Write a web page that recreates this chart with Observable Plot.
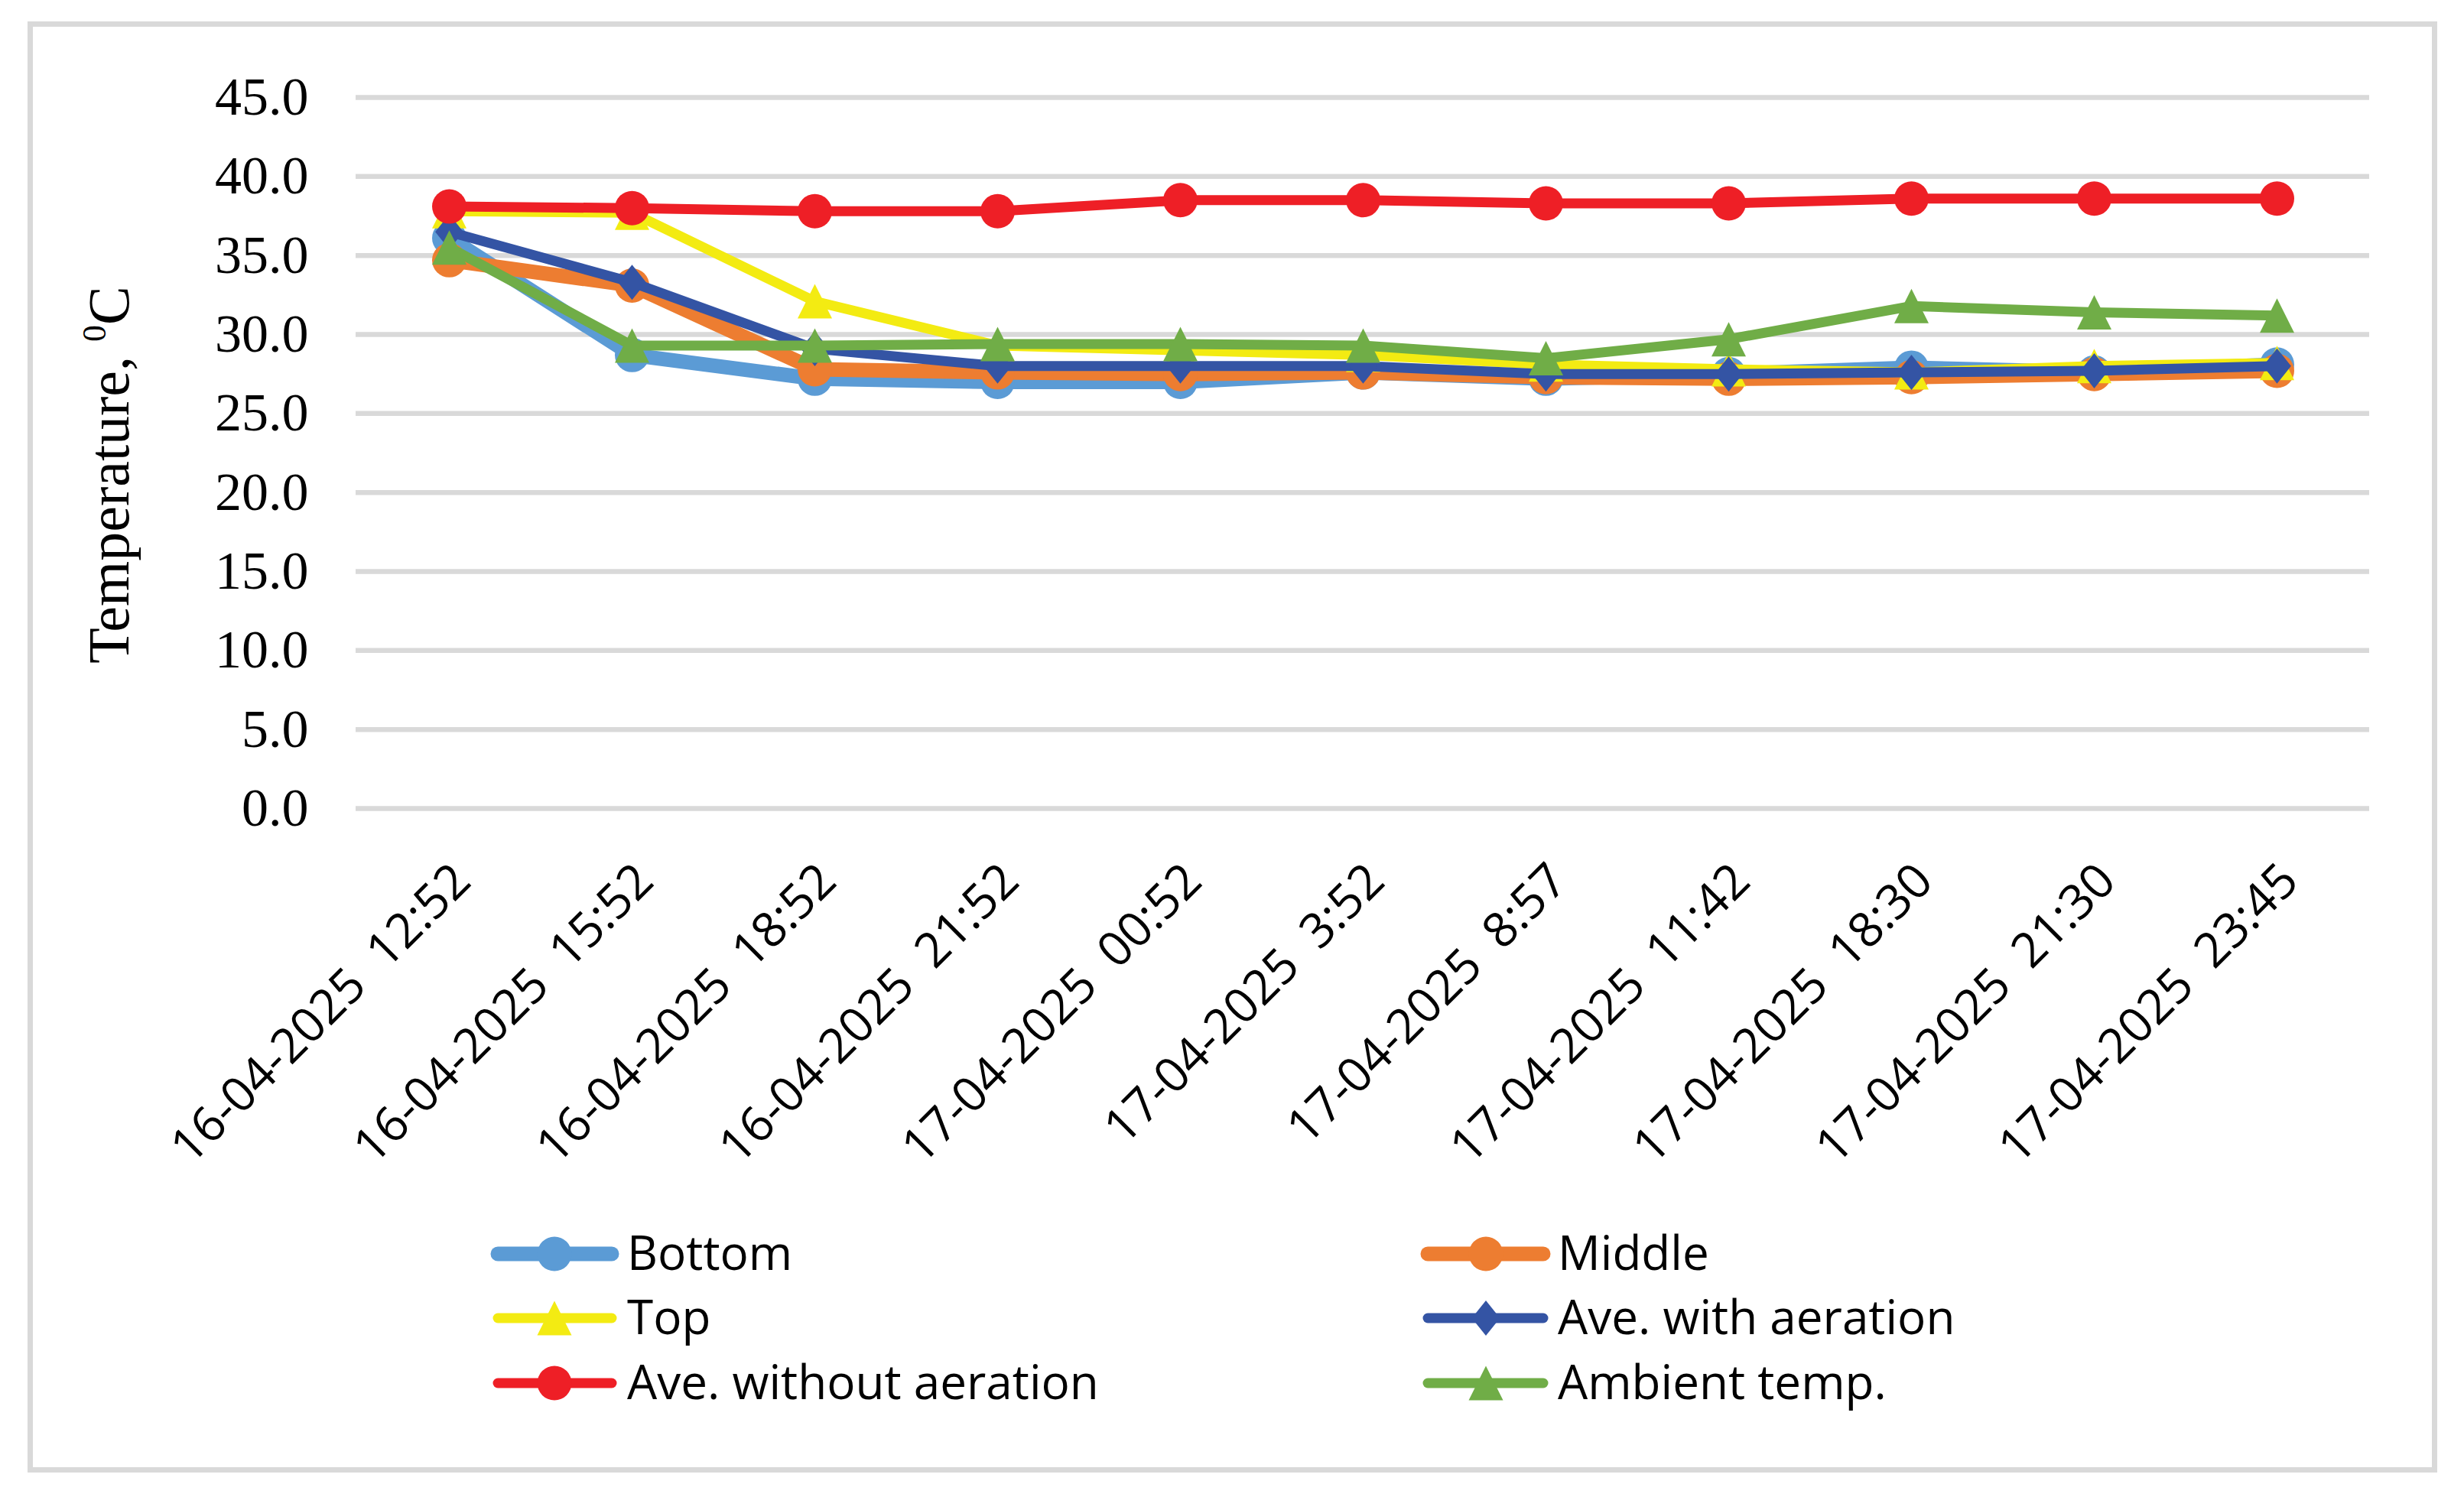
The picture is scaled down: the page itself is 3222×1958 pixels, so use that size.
<!DOCTYPE html>
<html>
<head>
<meta charset="utf-8">
<script src="https://cdn.jsdelivr.net/npm/d3@7"></script>
<script src="https://cdn.jsdelivr.net/npm/@observablehq/plot@0.6"></script>
<style>
  html, body { margin: 0; padding: 0; background: #ffffff; }
  #wrap { position: relative; width: 3222px; height: 1958px; }
  #plot { position: absolute; left: 0; top: 0; }
  #legend { position: absolute; left: 0; top: 1580px; }
  #frame { position: absolute; left: 36px; top: 28px; width: 3151px; height: 1898px;
           border: 7px solid #d9d9d9; box-sizing: border-box; pointer-events: none; }
</style>
</head>
<body>
<div id="wrap">
  <div id="plot"></div>
  <svg id="legend" width="3222" height="320"></svg>
  <div id="frame"></div>
</div>
<script>
// ---- data ----
const times = [
  "16-04-2025 12:52", "16-04-2025 15:52", "16-04-2025 18:52", "16-04-2025 21:52",
  "17-04-2025 00:52", "17-04-2025 3:52", "17-04-2025 8:57", "17-04-2025 11:42",
  "17-04-2025 18:30", "17-04-2025 21:30", "17-04-2025 23:45"
];
const bottom     = [36.1, 28.7, 27.2, 27.0, 27.0, 27.6, 27.2, 27.5, 27.9, 27.6, 28.1];
const middle     = [34.7, 33.1, 27.8, 27.6, 27.5, 27.6, 27.3, 27.2, 27.3, 27.5, 27.7];
const topLayer   = [37.8, 37.7, 32.1, 29.3, 29.0, 28.7, 28.1, 27.8, 27.6, 28.0, 28.2];
const aveWith    = [36.5, 33.3, 29.1, 28.0, 28.0, 28.0, 27.5, 27.5, 27.6, 27.7, 28.0];
const aveWithout = [38.1, 38.0, 37.8, 37.8, 38.5, 38.5, 38.3, 38.3, 38.6, 38.6, 38.6];
const ambient    = [35.5, 29.3, 29.3, 29.4, 29.4, 29.3, 28.5, 29.7, 31.8, 31.4, 31.2];
const yTicks = [0, 5, 10, 15, 20, 25, 30, 35, 40, 45];
const seriesNames = ["Bottom", "Middle", "Top", "Ave. with aeration", "Ave. without aeration", "Ambient temp."];
const seriesValues = [bottom, middle, topLayer, aveWith, aveWithout, ambient];
const seriesColors = ["#5b9bd5", "#ed7d31", "#f3eb12", "#3454a4", "#ee1f26", "#70ad47"];
const seriesSymbols = ["circle", "circle", "triangle", "diamond", "circle", "triangle"];
const seriesWidths = [19, 19, 13, 13, 13, 13];
const yTitle = "Temperature, ";

// ---- custom marker shapes ----
const shapes = {
  circle: { draw(ctx, size) { const r = Math.sqrt(size / Math.PI); ctx.moveTo(r, 0); ctx.arc(0, 0, r, 0, 2 * Math.PI); } },
  triangle: { draw(ctx, size) { const r = Math.sqrt(size / Math.PI); ctx.moveTo(0, -r); ctx.lineTo(r, r); ctx.lineTo(-r, r); ctx.closePath(); } },
  diamond: { draw(ctx, size) { const r = Math.sqrt(size / Math.PI); const w = r * 0.8; ctx.moveTo(0, -r); ctx.lineTo(w, 0); ctx.lineTo(0, r); ctx.lineTo(-w, 0); ctx.closePath(); } }
};
const markerR = { circle: 22.5, triangle: 22.5, diamond: 23 };

// ---- table ----
const rows = seriesNames.map((name, s) => times.map((t, i) => ({ series: name, time: t, value: seriesValues[s][i] })));

const marks = [
  Plot.gridY(yTicks, { stroke: "#d9d9d9", strokeWidth: 6.5, strokeOpacity: 1 }),
  Plot.axisY({ ticks: yTicks, tickFormat: d => d.toFixed(1), tickSize: 0, tickPadding: 62,
               fontSize: 70, fontFamily: "Liberation Serif", label: null, fill: "#000" }),
  Plot.axisX({ tickRotate: -45, tickSize: 0, tickPadding: 84, dx: 17, fontSize: 63,
               fontFamily: "Open Sans", label: null, fill: "#000",
               tickFormat: d => d.replace(" ", "\u00a0 ") })
];
rows.forEach((data, s) => {
  marks.push(Plot.lineY(data, { x: "time", y: "value", stroke: seriesColors[s], strokeWidth: seriesWidths[s],
                                strokeLinecap: "round", strokeLinejoin: "round" }));
  marks.push(Plot.dot(data, { x: "time", y: "value", r: markerR[seriesSymbols[s]], symbol: shapes[seriesSymbols[s]],
                              fill: seriesColors[s], stroke: "none" }));
});

const chart = Plot.plot({
  width: 3222,
  height: 1580,
  marginLeft: 465,
  marginRight: 124,
  marginTop: 127,
  marginBottom: 523,
  style: { background: "transparent", maxWidth: "none", color: "#000", overflow: "visible" },
  x: { type: "point", domain: times, padding: 0.5 },
  y: { domain: [0, 45] },
  marks
});
document.getElementById("plot").appendChild(chart);

// y-axis title with superscript
const svg = d3.select(chart);
const t = svg.append("text")
  .attr("transform", "translate(168,621) rotate(-90)")
  .attr("text-anchor", "middle")
  .attr("font-family", "Liberation Serif")
  .attr("font-size", 76)
  .attr("fill", "#000");
t.append("tspan").text(yTitle);
t.append("tspan").attr("font-size", 44).attr("dy", -30).text("0");
t.append("tspan").attr("dy", 30).text("C");

// ---- legend ----
const leg = d3.select("#legend");
const cols = [{ x0: 651, x1: 800, mx: 725, tx: 820 }, { x0: 1867, x1: 2018, mx: 1943, tx: 2037 }];
const rowY = [60, 144, 229];
const order = [0, 1, 2, 3, 4, 5];
order.forEach((s, k) => {
  const c = cols[k % 2], y = rowY[Math.floor(k / 2)];
  const g = leg.append("g");
  g.append("line").attr("x1", c.x0).attr("x2", c.x1).attr("y1", y).attr("y2", y)
    .attr("stroke", seriesColors[s]).attr("stroke-width", seriesWidths[s]).attr("stroke-linecap", "round");
  const sym = shapes[seriesSymbols[s]], r = markerR[seriesSymbols[s]];
  g.append("path").attr("d", d3.symbol(sym, r * r * Math.PI)()).attr("transform", `translate(${c.mx},${y})`)
    .attr("fill", seriesColors[s]);
  g.append("text").attr("x", c.tx).attr("y", y + 21).attr("font-family", "Open Sans").attr("font-size", 62)
    .attr("fill", "#000").text(seriesNames[s]);
});
</script>
</body>
</html>
